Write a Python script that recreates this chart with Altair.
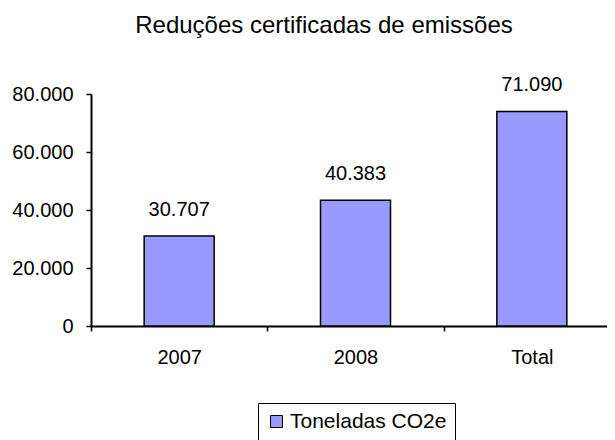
import altair as alt
import pandas as pd

# Data
categories = ["2007", "2008", "Total"]
bar_values = [31000, 43400, 74000]          # bar heights as drawn
label_texts = ["30.707", "40.383", "71.090"]  # data labels as printed
series_name = "Toneladas CO2e"
y_ticks = [0, 20000, 40000, 60000, 80000]

df = pd.DataFrame({
    "cat": categories,
    "value": bar_values,
    "label": label_texts,
    "series": [series_name] * len(categories),
})

FONT = "Liberation Sans"

x_enc = alt.X(
    "cat:N", sort=categories, title=None,
    scale=alt.Scale(range=[0, 529], paddingInner=0, paddingOuter=0),
    axis=alt.Axis(labelAngle=0, tickBand="extent", tickSize=5, tickColor="black",
                  tickWidth=1.5, domainColor="black", domainWidth=2, grid=False,
                  labelFontSize=20, labelFont=FONT, labelColor="black", labelPadding=16),
)
y_enc = alt.Y(
    "value:Q", title=None,
    scale=alt.Scale(domain=[0, 80000], nice=False),
    axis=alt.Axis(values=y_ticks, grid=False, tickSize=5, tickColor="black", tickWidth=1.5,
                  domainColor="black", domainWidth=2, labelFontSize=20, labelFont=FONT,
                  labelColor="black", labelPadding=13,
                  labelExpr="replace(format(datum.value, ','), ',', '.')"),
)

bars = alt.Chart(df).mark_bar(size=70, stroke="black", strokeWidth=1.5).encode(
    x=x_enc, y=y_enc,
    color=alt.Color(
        "series:N", scale=alt.Scale(domain=[series_name], range=["#9999FF"]),
        legend=alt.Legend(title=None, orient="none", legendX=167, legendY=309,
                          strokeColor="black", padding=8, fillColor="white",
                          symbolType="square", symbolSize=144, symbolStrokeColor="black",
                          symbolStrokeWidth=1, labelFontSize=21, labelFont=FONT,
                          labelColor="black", labelOffset=3),
    ),
)

labels = alt.Chart(df).mark_text(dy=-20, baseline="alphabetic", fontSize=20, font=FONT,
                                 color="black").encode(
    x=alt.X("cat:N", sort=categories), y="value:Q", text="label:N"
)

chart = alt.layer(bars, labels).properties(
    width=516, height=232,
    title=alt.TitleParams("Reduções certificadas de emissões", fontSize=24, font=FONT,
                          fontWeight="normal", color="black", anchor="middle", dx=-25,
                          offset=37),
    autosize=alt.AutoSizeParams(type="none"),
    padding={"left": 83, "top": 86, "right": 0, "bottom": 114},
).configure_view(stroke=None)

chart.save("out.html", embed_options={"renderer": "svg", "actions": False})
